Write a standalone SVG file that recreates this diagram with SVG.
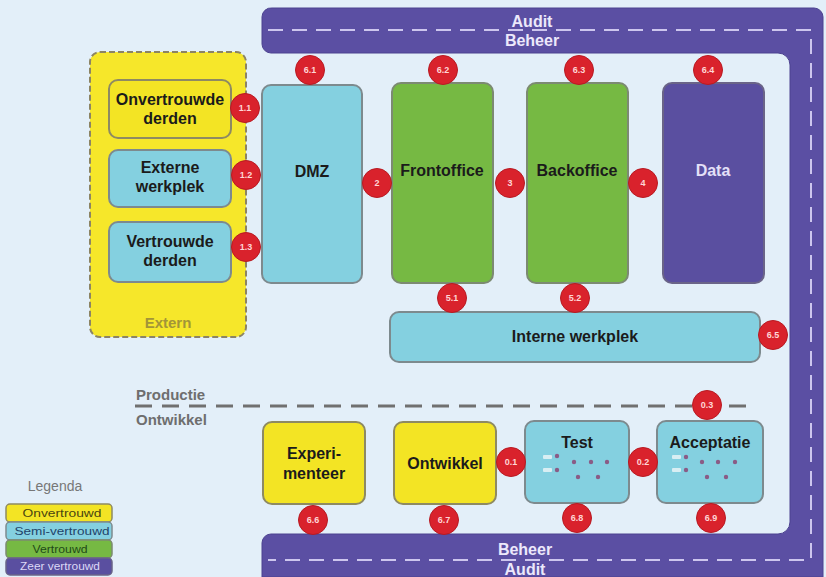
<svg xmlns="http://www.w3.org/2000/svg" width="826" height="577" viewBox="0 0 826 577">
  <style>
    .lbl { font-family: "Liberation Sans", Arial, sans-serif; font-weight: bold; font-size: 16px; fill: #1b1b1b; text-anchor: middle; }
    .band { font-family: "Liberation Sans", Arial, sans-serif; font-weight: bold; font-size: 16px; fill: #ece8fb; text-anchor: middle; }
    .zone { font-family: "Liberation Sans", Arial, sans-serif; font-weight: bold; font-size: 15px; fill: #6e6e6e; }
    .yel { fill: #f3e424; stroke: #8e8a62; stroke-width: 2; }
    .blu { fill: #84d0e0; stroke: #7d8a8e; stroke-width: 2; }
    .grn { fill: #76b943; stroke: #7c8a72; stroke-width: 2; }
    .pur { fill: #5a4fa0; stroke: #6a6488; stroke-width: 2; }
    .badge circle { fill: #d9222c; stroke: #b81a22; stroke-width: 1; }
    .badge text { font-family: "Liberation Sans", Arial, sans-serif; font-weight: bold; font-size: 9px; fill: #ffd6d6; text-anchor: middle; }
    .dot { fill: #8a5c86; }
    .faint { fill: #d8eef3; }
    .leg { font-family: "Liberation Sans", Arial, sans-serif; font-size: 11px; text-anchor: middle; }
  </style>

  <!-- background -->
  <rect x="0" y="0" width="826" height="577" fill="#e3eff9"/>

  <!-- management / audit frame -->
  <g id="frame">
    <path d="M272,8 H814 A9,9 0 0 1 823,17 V577 H262 V543 A9,9 0 0 1 271,534 H778 A12,12 0 0 0 790,522 V65 A12,12 0 0 0 778,53 H271 A9,9 0 0 1 262,44 V17 A9,9 0 0 1 272,8 Z" fill="#5b4fa3" stroke="#4c4290" stroke-width="1"/>
    <path d="M268,30 H811 V560 H268" fill="none" stroke="#cdc6ee" stroke-width="2" stroke-dasharray="15,9"/>
    <text class="band" x="532" y="27">Audit</text>
    <text class="band" x="532" y="46">Beheer</text>
    <text class="band" x="525" y="555">Beheer</text>
    <text class="band" x="525" y="575">Audit</text>
  </g>

  <!-- production / development divider -->
  <g id="divider">
    <line x1="135" y1="406" x2="752" y2="406" stroke="#707070" stroke-width="3" stroke-dasharray="17,10"/>
    <text class="zone" x="136" y="400">Productie</text>
    <text class="zone" x="136" y="425">Ontwikkel</text>
  </g>

  <!-- external zone -->
  <g id="extern">
    <rect x="90" y="52" width="156" height="285" rx="10" fill="#f6e72a" stroke="#8c8464" stroke-width="2" stroke-dasharray="6,3"/>
    <text x="168" y="328" font-family="Liberation Sans, Arial, sans-serif" font-weight="bold" font-size="15" fill="#a39538" text-anchor="middle">Extern</text>
  </g>

  <g id="onvertrouwde-derden">
    <rect class="yel" x="109" y="80" width="122" height="58" rx="9"/>
    <text class="lbl" x="170" y="105">Onvertrouwde</text>
    <text class="lbl" x="170" y="124">derden</text>
  </g>
  <g id="externe-werkplek">
    <rect class="blu" x="109" y="150" width="122" height="57" rx="9"/>
    <text class="lbl" x="170" y="173">Externe</text>
    <text class="lbl" x="170" y="192">werkplek</text>
  </g>
  <g id="vertrouwde-derden">
    <rect class="blu" x="109" y="222" width="122" height="60" rx="9"/>
    <text class="lbl" x="170" y="247">Vertrouwde</text>
    <text class="lbl" x="170" y="266">derden</text>
  </g>

  <!-- production chain -->
  <g id="dmz">
    <rect class="blu" x="262" y="85" width="100" height="198" rx="9"/>
    <text class="lbl" x="312" y="177">DMZ</text>
  </g>
  <g id="frontoffice">
    <rect class="grn" x="392" y="83" width="101" height="200" rx="9"/>
    <text class="lbl" x="442" y="176">Frontoffice</text>
  </g>
  <g id="backoffice">
    <rect class="grn" x="527" y="83" width="101" height="200" rx="9"/>
    <text class="lbl" x="577" y="176">Backoffice</text>
  </g>
  <g id="data">
    <rect class="pur" x="663" y="83" width="101" height="200" rx="9"/>
    <text class="lbl" x="713" y="176" style="fill:#e4e0f8">Data</text>
  </g>
  <g id="interne-werkplek">
    <rect class="blu" x="390" y="312" width="370" height="50" rx="9"/>
    <text class="lbl" x="575" y="342">Interne werkplek</text>
  </g>

  <!-- development chain -->
  <g id="experimenteer">
    <rect class="yel" x="263" y="422" width="102" height="82" rx="9"/>
    <text class="lbl" x="314" y="459">Experi-</text>
    <text class="lbl" x="314" y="479">menteer</text>
  </g>
  <g id="ontwikkel">
    <rect class="yel" x="394" y="422" width="102" height="82" rx="9"/>
    <text class="lbl" x="445" y="469">Ontwikkel</text>
  </g>
  <g id="test">
    <rect class="blu" x="525" y="421" width="104" height="82" rx="9"/>
    <text class="lbl" x="577" y="448">Test</text>
    <rect class="faint" x="543" y="455" width="9" height="4" rx="1"/>
    <rect class="faint" x="543" y="468" width="9" height="4" rx="1"/>
    <circle class="dot" cx="557" cy="456" r="2.2"/>
    <circle class="dot" cx="557" cy="470" r="2.2"/>
    <circle class="dot" cx="574" cy="462" r="2.2"/>
    <circle class="dot" cx="591" cy="462" r="2.2"/>
    <circle class="dot" cx="607" cy="462" r="2.2"/>
    <circle class="dot" cx="578" cy="477" r="2.2"/>
    <circle class="dot" cx="598" cy="477" r="2.2"/>
  </g>
  <g id="acceptatie">
    <rect class="blu" x="657" y="421" width="106" height="82" rx="9"/>
    <text class="lbl" x="710" y="448">Acceptatie</text>
    <rect class="faint" x="672" y="455" width="9" height="4" rx="1"/>
    <rect class="faint" x="672" y="468" width="9" height="4" rx="1"/>
    <circle class="dot" cx="686" cy="457" r="2.2"/>
    <circle class="dot" cx="686" cy="470" r="2.2"/>
    <circle class="dot" cx="702" cy="462" r="2.2"/>
    <circle class="dot" cx="718" cy="462" r="2.2"/>
    <circle class="dot" cx="735" cy="462" r="2.2"/>
    <circle class="dot" cx="707" cy="477" r="2.2"/>
    <circle class="dot" cx="726" cy="477" r="2.2"/>
  </g>

  <!-- interface markers between zones -->
  <g id="connectors">
    <g class="badge"><circle cx="245" cy="108" r="14.5"/><text x="245" y="111">1.1</text></g>
    <g class="badge"><circle cx="246" cy="175" r="14.5"/><text x="246" y="178">1.2</text></g>
    <g class="badge"><circle cx="246" cy="247" r="14.5"/><text x="246" y="250">1.3</text></g>
    <g class="badge"><circle cx="310" cy="70" r="14.5"/><text x="310" y="73">6.1</text></g>
    <g class="badge"><circle cx="443" cy="70" r="14.5"/><text x="443" y="73">6.2</text></g>
    <g class="badge"><circle cx="579" cy="70" r="14.5"/><text x="579" y="73">6.3</text></g>
    <g class="badge"><circle cx="708" cy="70" r="14.5"/><text x="708" y="73">6.4</text></g>
    <g class="badge"><circle cx="377" cy="183" r="14.5"/><text x="377" y="186">2</text></g>
    <g class="badge"><circle cx="510" cy="183" r="14.5"/><text x="510" y="186">3</text></g>
    <g class="badge"><circle cx="643" cy="183" r="14.5"/><text x="643" y="186">4</text></g>
    <g class="badge"><circle cx="452" cy="298" r="14.5"/><text x="452" y="301">5.1</text></g>
    <g class="badge"><circle cx="575" cy="298" r="14.5"/><text x="575" y="301">5.2</text></g>
    <g class="badge"><circle cx="773" cy="335" r="14.5"/><text x="773" y="338">6.5</text></g>
    <g class="badge"><circle cx="707" cy="405" r="14.5"/><text x="707" y="408">0.3</text></g>
    <g class="badge"><circle cx="511" cy="462" r="14.5"/><text x="511" y="465">0.1</text></g>
    <g class="badge"><circle cx="643" cy="462" r="14.5"/><text x="643" y="465">0.2</text></g>
    <g class="badge"><circle cx="313" cy="520" r="14.5"/><text x="313" y="523">6.6</text></g>
    <g class="badge"><circle cx="444" cy="520" r="14.5"/><text x="444" y="523">6.7</text></g>
    <g class="badge"><circle cx="577" cy="518" r="14.5"/><text x="577" y="521">6.8</text></g>
    <g class="badge"><circle cx="711" cy="518" r="14.5"/><text x="711" y="521">6.9</text></g>
  </g>

  <!-- legend -->
  <g id="legenda">
    <text x="55" y="491" font-family="Liberation Sans, Arial, sans-serif" font-size="14" fill="#777777" text-anchor="middle">Legenda</text>
    <rect x="6" y="504" width="106" height="18" rx="4" fill="#f3e424" stroke="#8e8a62" stroke-width="1.5"/>
    <text class="leg" x="62" y="517" fill="#4a4410" textLength="79" lengthAdjust="spacingAndGlyphs">Onvertrouwd</text>
    <rect x="6" y="522" width="106" height="18" rx="4" fill="#84d0e0" stroke="#7d8a8e" stroke-width="1.5"/>
    <text class="leg" x="62" y="535" fill="#22446a" textLength="95" lengthAdjust="spacingAndGlyphs">Semi-vertrouwd</text>
    <rect x="6" y="540" width="106" height="18" rx="4" fill="#76b943" stroke="#7c8a72" stroke-width="1.5"/>
    <text class="leg" x="60" y="553" fill="#1f4a18" textLength="55" lengthAdjust="spacingAndGlyphs">Vertrouwd</text>
    <rect x="6" y="558" width="106" height="17" rx="4" fill="#5a4fa0" stroke="#6a6488" stroke-width="1.5"/>
    <text class="leg" x="60" y="570" fill="#dcd8f6" textLength="80" lengthAdjust="spacingAndGlyphs">Zeer vertrouwd</text>
  </g>
</svg>
